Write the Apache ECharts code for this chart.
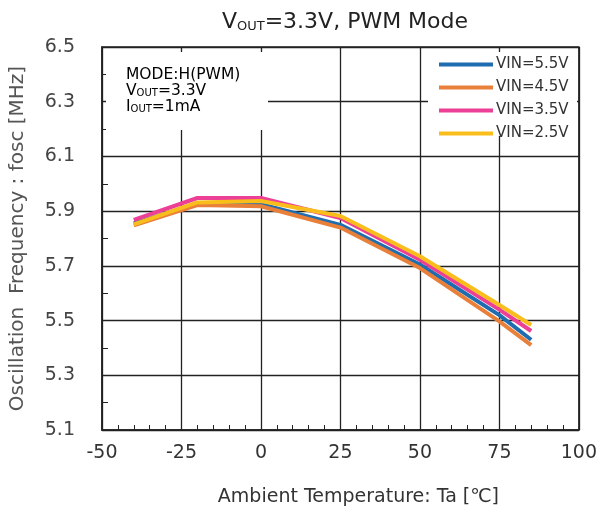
<!DOCTYPE html>
<html><head><meta charset="utf-8">
<script src="https://cdn.jsdelivr.net/npm/echarts@6/dist/echarts.min.js"></script>
<style>html,body{margin:0;padding:0;background:#fff}#c{width:600px;height:521px}</style>
</head><body><div id="c"></div>
<script>
const temps = [-40, -20, 0, 25, 50, 75, 85];
const vin55 = [5.855, 5.928, 5.925, 5.850, 5.705, 5.520, 5.430];
const vin45 = [5.848, 5.922, 5.918, 5.840, 5.692, 5.497, 5.410];
const vin35 = [5.868, 5.948, 5.948, 5.875, 5.722, 5.540, 5.462];
const vin25 = [5.852, 5.932, 5.937, 5.882, 5.735, 5.557, 5.484];
const seriesNames = ['VIN=5.5V', 'VIN=4.5V', 'VIN=3.5V', 'VIN=2.5V'];
const seriesColors = ['#1f6db1', '#e8803a', '#ec3f96', '#f9bd1c'];
const xTicks = [-50, -25, 0, 25, 50, 75, 100];
const yTicks = [5.1, 5.3, 5.5, 5.7, 5.9, 6.1, 6.3, 6.5];

const FONT = '"DejaVu Sans", sans-serif';
const pair = (xs, ys) => xs.map((x, i) => [x, ys[i]]);
const allData = [vin55, vin45, vin35, vin25];

const chart = echarts.init(document.getElementById('c'));
chart.setOption({
  backgroundColor: '#fff',
  animation: false,
  title: {
    text: '{v|V}{s|OUT}{v|=3.3V, PWM Mode}',
    left: 340, top: 6, textAlign: 'center',
    textStyle: {
      rich: {
        v: { fontFamily: FONT, fontSize: 22, fontWeight: 'normal', color: '#222' },
        s: { fontFamily: FONT, fontSize: 13, fontWeight: 'normal', color: '#222', padding: [9, 0, 0, 0] }
      }
    }
  },
  legend: {
    orient: 'vertical', left: 439, top: 57, z: 10, padding: 0,
    itemWidth: 54, itemHeight: 4, itemGap: 8,
    icon: 'rect',
    data: seriesNames,
    textStyle: { fontFamily: FONT, fontSize: 15, color: '#333', padding: [0, 0, 0, -2] },
    selectedMode: false
  },
  grid: {
    left: 101, right: 21, top: 47, bottom: 91,
    show: true, borderColor: '#222', borderWidth: 1.5, backgroundColor: 'transparent'
  },
  xAxis: {
    type: 'value', min: -50, max: 100, interval: 25,
    name: 'Ambient Temperature: Ta [℃]', nameLocation: 'middle', nameGap: 58,
    nameTextStyle: { fontFamily: FONT, fontSize: 19, color: '#333', padding: [0, 0, 0, 36] },
    axisLine: { show: true, lineStyle: { color: '#222', width: 1.5 } },
    axisTick: { show: true, inside: true, length: 5, lineStyle: { color: '#222' } },
    minorTick: { show: true, splitNumber: 5, length: 5, lineStyle: { color: '#222', width: 1 } },
    axisLabel: { fontFamily: FONT, fontSize: 19, color: '#333', margin: 14,
      formatter: v => xTicks.includes(v) ? String(v) : '' },
    splitLine: { show: true, lineStyle: { color: '#222', width: 1.3 } }
  },
  yAxis: {
    type: 'value', min: 5.1, max: 6.5, interval: 0.2,
    name: 'Oscillation  Frequency : fosc [MHz]', nameLocation: 'middle', nameGap: 74,
    nameTextStyle: { fontFamily: FONT, fontSize: 20, color: '#555' },
    axisLine: { show: true, onZero: false, lineStyle: { color: '#222', width: 1.5 } },
    axisTick: { show: true, inside: true, length: 6, lineStyle: { color: '#222' } },
    minorTick: { show: true, splitNumber: 2, length: 6, lineStyle: { color: '#222', width: 1 } },
    axisLabel: { fontFamily: FONT, fontSize: 19, color: '#444', margin: 27,
      formatter: v => { const t = yTicks.find(k => Math.abs(k - v) < 1e-6); return t === undefined ? '' : t.toFixed(1); } },
    splitLine: { show: true, lineStyle: { color: '#222', width: 1.3 } }
  },
  graphic: [
    { type: 'rect', z: 5, shape: { x: 106, y: 52, width: 162, height: 78 }, style: { fill: '#fff' } },
    { type: 'rect', z: 5, shape: { x: 428, y: 52, width: 149, height: 84 }, style: { fill: '#fff' } },
    { type: 'text', z: 6, left: 126, top: 67, style: {
      text: '{t|MODE:H(PWM)}\n{t|V}{s|OUT}{t|=3.3V}\n{t|I}{s|OUT}{t|=1mA}',
      rich: {
        t: { fontFamily: FONT, fontSize: 15.5, color: '#222', lineHeight: 16 },
        s: { fontFamily: FONT, fontSize: 10, color: '#222', lineHeight: 16, padding: [5, 0, 0, 0] }
      }
    } }
  ],
  series: allData.map((d, i) => ({
    name: seriesNames[i], type: 'line', data: pair(temps, d),
    showSymbol: false, symbol: 'none', z: 3 + i,
    lineStyle: { color: seriesColors[i], width: 4 },
    itemStyle: { color: seriesColors[i] }
  }))
});
</script></body></html>
